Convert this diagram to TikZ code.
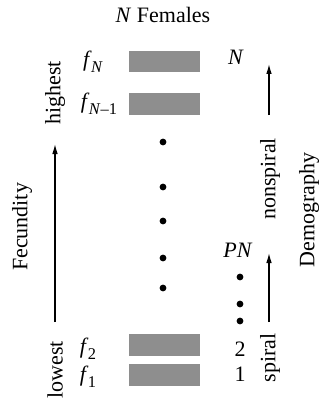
\documentclass[tikz,border=0pt]{standalone}
\usepackage{fontspec}
\setmainfont{Liberation Serif}
\usetikzlibrary{arrows.meta}
\newcommand{\fsub}[1]{\textit{f}\kern-0.03em\raisebox{-0.28em}{\fontsize{8.2}{9}\selectfont #1}}
\begin{document}
\begin{tikzpicture}[x=0.5pt,y=-0.5pt,
  every node/.style={inner sep=0pt,font=\fontsize{11}{13}\selectfont},
  bar/.style={fill={rgb,255:red,142;green,142;blue,142},minimum width=35.5pt,minimum height=10.8pt},
  dotmark/.style={circle,fill=black,minimum size=3.4pt},
  axis/.style={line width=0.6pt,-{Latex[length=5pt,width=2.8pt]}}]
\useasboundingbox (0,0) rectangle (323,401);
% title
\node (title) at (163,15) {\textit{N} Females};
% bars
\node[bar] (bN) at (164.5,61.5) {};
\node[bar] (bN1) at (164.5,104) {};
\node[bar] (b2) at (164.5,345) {};
\node[bar] (b1) at (164.5,375) {};
% f labels
\node (fN) at (93,62) {\fsub{\textit{N}}};
\node (fN1) at (99,104) {\fsub{\textit{N}–1}};
\node (f2) at (88,349) {\fsub{2}};
\node (f1) at (88,377) {\fsub{1}};
% middle dots
\node[dotmark] (d1) at (163,142) {};
\node[dotmark] (d2) at (163,187) {};
\node[dotmark] (d3) at (163,221) {};
\node[dotmark] (d4) at (163,258) {};
\node[dotmark] (d5) at (163,288) {};
% right labels
\node (rN) at (236,57) {\textit{N}};
\node (rPN) at (238,250) {\textit{PN}};
\node[dotmark] (r1) at (240,277) {};
\node[dotmark] (r2) at (240,304) {};
\node[dotmark] (r3) at (240,321) {};
\node (r2lab) at (240,349) {2};
\node (r1lab) at (240,374) {1};
% left axis
\coordinate (la) at (55,322);
\coordinate (lb) at (55,144);
\draw[axis] (la) -- (lb);
\node[rotate=90] (hi) at (55,93) {highest};
\node[rotate=90] (lo) at (55,370) {lowest};
\node[rotate=90] (fec) at (22,227) {Fecundity};
% right axes
\coordinate (ra) at (269,115);
\coordinate (rb) at (269,64);
\draw[axis] (ra) -- (rb);
\coordinate (rc) at (269,322);
\coordinate (rd) at (269,253);
\draw[axis] (rc) -- (rd);
\node[rotate=90] (nons) at (270,179) {nonspiral};
\node[rotate=90] (spir) at (270,358) {spiral};
\node[rotate=90] (demo) at (309,210) {Demography};
\end{tikzpicture}
\end{document}
